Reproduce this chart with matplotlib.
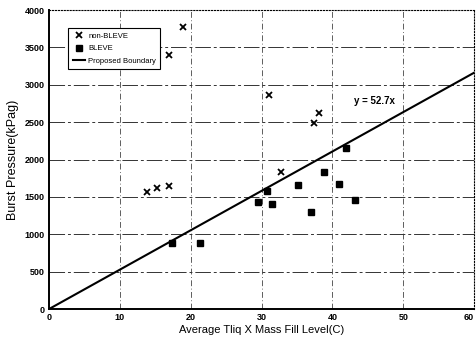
import numpy as np
import matplotlib
matplotlib.use('Agg')
import matplotlib.pyplot as plt

# non-BLEVE tests (x markers)
non_bleve_x = [13.8, 15.2, 17.0, 18.9, 17.0, 31.0, 38.1, 37.4, 32.7]
non_bleve_y = [1560, 1615, 1650, 3775, 3395, 2865, 2625, 2485, 1835]

# BLEVE tests (squares)
bleve_x = [17.4, 21.3, 29.5, 30.8, 31.5, 35.2, 37.0, 38.8, 41.0, 41.9, 43.2]
bleve_y = [878, 878, 1438, 1577, 1408, 1660, 1300, 1833, 1675, 2153, 1463]

slope = 52.7
x_ticks = [0, 10, 20, 30, 40, 50, 60]
y_ticks = [0, 500, 1000, 1500, 2000, 2500, 3000, 3500, 4000]

plt.rcParams['font.family'] = ['Liberation Sans Narrow', 'Liberation Sans', 'DejaVu Sans']

fig = plt.figure(figsize=(4.76, 3.48), dpi=100)
ax = fig.add_axes([0.103, 0.112, 0.893, 0.859])

# grid (scanned look: broken, greyish lines)
for xv in x_ticks[1:-1]:
    ax.axvline(xv, color='#444444', lw=0.6, linestyle=(0, (7, 3, 1, 3)), zorder=0)
for yv in y_ticks[1:-1]:
    ax.axhline(yv, color='#333333', lw=0.7, linestyle=(0, (16, 3, 3, 3)), zorder=0)

xs = np.array([0, 60])
ax.plot(xs, slope * xs, color='black', lw=1.5, label='Proposed Boundary', zorder=2)
ax.plot(non_bleve_x, non_bleve_y, 'x', color='black', ms=5, mew=1.3,
        label='non-BLEVE', zorder=3)
ax.plot(bleve_x, bleve_y, 's', color='black', ms=4.5, label='BLEVE', zorder=3)

ax.text(43.0, 2790, 'y = 52.7x', fontsize=7, fontweight='bold', va='center')

ax.set_xlim(0, 60)
ax.set_ylim(0, 4000)
ax.set_xticks(x_ticks)
ax.set_yticks(y_ticks)
ax.tick_params(length=0, labelsize=6.5, pad=3)
for lab in ax.get_xticklabels() + ax.get_yticklabels():
    lab.set_fontweight('bold')
# keep the last x label inside the figure
ax.get_xticklabels()[-1].set_horizontalalignment('right')

for s in ['left', 'bottom']:
    ax.spines[s].set_linewidth(1.4)
for s in ['top', 'right']:
    ax.spines[s].set_linestyle(':')
    ax.spines[s].set_linewidth(0.8)

ax.set_xlabel('Average Tliq X Mass Fill Level(C)', fontsize=8, labelpad=2)
ax.set_ylabel('Burst Pressure(kPag)', fontsize=9, labelpad=4,
              family=['Liberation Sans', 'DejaVu Sans'])

handles, labels = ax.get_legend_handles_labels()
order = [1, 2, 0]
leg = ax.legend([handles[i] for i in order], [labels[i] for i in order],
                loc='upper left', bbox_to_anchor=(0.045, 0.94), fontsize=5.5,
                frameon=True, fancybox=False, edgecolor='black',
                borderpad=0.6, labelspacing=0.65, handlelength=1.6,
                handletextpad=0.4, borderaxespad=0)
leg.get_frame().set_linewidth(0.8)
leg.get_frame().set_alpha(1)

fig.savefig('out.png', dpi=100)
